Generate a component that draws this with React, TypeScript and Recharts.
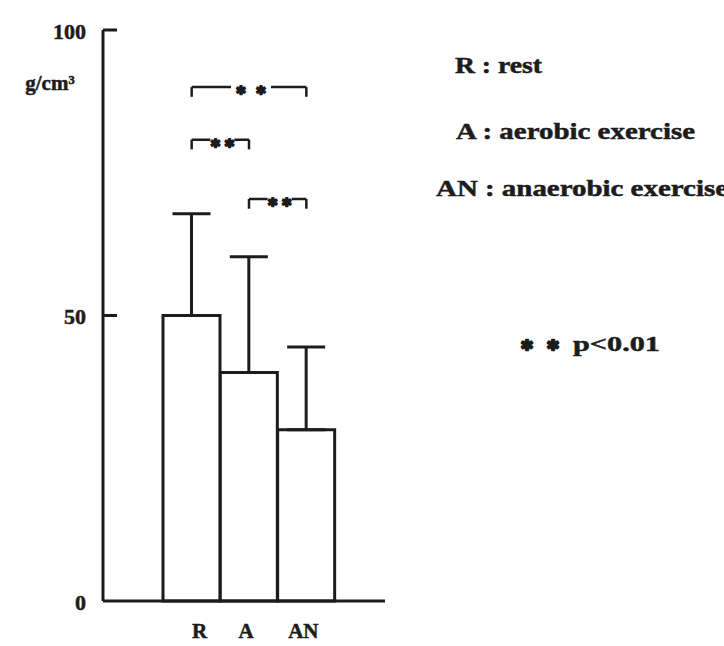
import React from 'react';
import {
  BarChart,
  Bar,
  XAxis,
  YAxis,
  ErrorBar,
  ReferenceLine,
  Label,
  Customized,
} from 'recharts';

// Groups, mean values and standard deviations (g/cm³)
const groups = ['R', 'A', 'AN'];
const means = [50, 40, 30];
const sds = [17.8, 20.3, 14.5];
const yTicks = [0, 50, 100];
const yUnit = 'g/cm³';

// Legend lines and the significance note
const legendLines = ['R : rest', 'A : aerobic exercise', 'AN : anaerobic exercise'];
const starMark = '*';
const sigNote = 'p<0.01';

// Pairwise comparisons (all p<0.01) with the height of each bracket
const compFrom = ['R', 'R', 'A'];
const compTo = ['AN', 'A', 'AN'];
const compLevel = [90, 80.8, 70.4];
const compGap = [40, 24, 24];
const compStarSpacing = [20, 14, 14];

const data = groups.map((g, i) => ({ group: g, mean: means[i], err: [0, sds[i]] }));

const INK = '#1c1c1c';
const SERIF = '"Liberation Serif", "DejaVu Serif", serif';
const SANS = '"DejaVu Sans", sans-serif';

// small horizontal nudges of the category labels under the bars
const xLabelShift: Record<string, number> = { R: 8, A: -3, AN: -3 };

const heavy = { stroke: INK, strokeWidth: 0.5 };

const Star = ({ x, y, size }: { x: number; y: number; size: number }) => (
  <text
    x={x}
    y={y + size * 0.36}
    textAnchor="middle"
    dominantBaseline="central"
    fontFamily={SANS}
    fontWeight="bold"
    fontSize={size}
    fill={INK}
    stroke={INK}
    strokeWidth={size * 0.12}
    strokeLinejoin="round"
  >
    {starMark}
  </text>
);

const YTick = (props: any) => {
  const { x, y, payload } = props;
  const v = payload.value;
  return (
    <g>
      {v !== 0 && <line x1={x} y1={y} x2={x + 14} y2={y} stroke={INK} strokeWidth={3} />}
      <text
        x={x - 17}
        y={y + 1}
        textAnchor="end"
        dominantBaseline="central"
        fontFamily={SERIF}
        fontWeight="bold"
        fontSize={22}
        fill={INK}
        {...heavy}
      >
        {v}
      </text>
    </g>
  );
};

const XTick = (props: any) => {
  const { x, y, payload } = props;
  return (
    <text
      x={x + (xLabelShift[payload.value] || 0)}
      y={y + 30}
      textAnchor="middle"
      dominantBaseline="central"
      fontFamily={SERIF}
      fontWeight="bold"
      fontSize={21}
      fill={INK}
      {...heavy}
    >
      {payload.value}
    </text>
  );
};

const makeStars = (gap: number, spacing: number) => (props: any) => {
  const vb = props.viewBox || {};
  const cx = vb.x + vb.width / 2 + 2;
  const cy = vb.y;
  return (
    <g>
      <rect x={cx - gap / 2} y={cy - 5} width={gap} height={10} fill="#fff" />
      {[-1, 1].map((s) => (
        <Star key={s} x={cx + (s * spacing) / 2} y={cy} size={17} />
      ))}
    </g>
  );
};

const UnitLabel = (props: any) => {
  const vb = props.viewBox || { x: 0, y: 0 };
  return (
    <text
      x={vb.x + 50}
      y={vb.y + 53}
      textAnchor="middle"
      dominantBaseline="central"
      fontFamily={SERIF}
      fontWeight="bold"
      fontSize={21}
      fill={INK}
      {...heavy}
    >
      {yUnit}
    </text>
  );
};

const LegendBlock = () => {
  const textProps = {
    fontFamily: SERIF,
    fontWeight: 'bold' as const,
    fontSize: 23,
    fill: INK,
    dominantBaseline: 'central' as const,
    lengthAdjust: 'spacingAndGlyphs' as const,
    ...heavy,
  };
  return (
    <g>
      <text x={455} y={65} textLength={87} {...textProps}>{legendLines[0]}</text>
      <text x={456} y={131} textLength={239} {...textProps}>{legendLines[1]}</text>
      <text x={436} y={188} textLength={292} {...textProps}>{legendLines[2]}</text>
      {[527, 553].map((sx) => (
        <Star key={sx} x={sx} y={341} size={21} />
      ))}
      <text x={573} y={343} textLength={87} {...textProps} fontSize={22}>{sigNote}</text>
    </g>
  );
};

export default function App() {
  return (
    <div style={{ position: 'absolute', left: 0, top: 0, background: '#fff' }}>
      <BarChart
        width={724}
        height={646}
        data={data}
        margin={{ top: 30, right: 339, bottom: 0, left: 0 }}
        barCategoryGap={0}
      >
        <XAxis
          dataKey="group"
          padding={{ left: 60, right: 50 }}
          axisLine={{ stroke: INK, strokeWidth: 3 }}
          tickLine={false}
          tickSize={0}
          tickMargin={0}
          tick={<XTick />}
          height={45}
        />
        <YAxis
          domain={[0, 100]}
          ticks={yTicks}
          width={103}
          axisLine={{ stroke: INK, strokeWidth: 3 }}
          tickLine={false}
          tickSize={0}
          tickMargin={0}
          tick={<YTick />}
        >
          <Label content={<UnitLabel />} />
        </YAxis>
        <Bar dataKey="mean" fill="#fff" stroke={INK} strokeWidth={3} isAnimationActive={false}>
          <ErrorBar dataKey="err" width={19} stroke={INK} strokeWidth={3} direction="y" />
        </Bar>
        {compFrom.map((f, i) => (
          <ReferenceLine
            key={`h${i}`}
            segment={[
              { x: f, y: compLevel[i] },
              { x: compTo[i], y: compLevel[i] },
            ]}
            stroke={INK}
            strokeWidth={2.5}
            label={makeStars(compGap[i], compStarSpacing[i])}
          />
        ))}
        {compFrom.map((f, i) => (
          <ReferenceLine
            key={`l${i}`}
            segment={[
              { x: f, y: compLevel[i] },
              { x: f, y: compLevel[i] - 1.7 },
            ]}
            stroke={INK}
            strokeWidth={2.5}
          />
        ))}
        {compTo.map((t, i) => (
          <ReferenceLine
            key={`r${i}`}
            segment={[
              { x: t, y: compLevel[i] },
              { x: t, y: compLevel[i] - 1.7 },
            ]}
            stroke={INK}
            strokeWidth={2.5}
          />
        ))}
        <Customized component={<LegendBlock />} />
      </BarChart>
    </div>
  );
}
